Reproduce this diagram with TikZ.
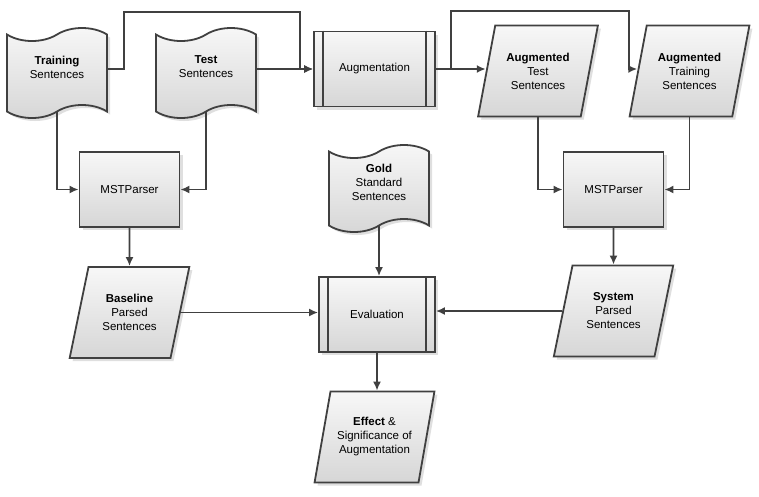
\documentclass[tikz,border=0pt]{standalone}
\usepackage{fontspec}
\setmainfont{Liberation Sans}
\usepackage{tikz}
\usetikzlibrary{arrows.meta}
\usetikzlibrary{shapes.symbols}
\usetikzlibrary{shapes.geometric}
\usetikzlibrary{shadows}
\definecolor{edgegray}{HTML}{404040}
\tikzset{
  box/.style={draw=edgegray, line width=1.8pt, top color=gray!6, bottom color=gray!32,
    drop shadow={shadow xshift=3pt, shadow yshift=-3pt, fill=gray!50, opacity=.5},
    align=center, font=\fontsize{11.5}{14}\selectfont},
  proc/.style={box, rectangle, minimum width=100pt, minimum height=75pt},
  tapedoc/.style={box, tape, minimum width=100pt, minimum height=90pt, tape bend height=13pt, text depth=12pt},
  data/.style={box, trapezium, trapezium left angle=72, trapezium right angle=108,
    trapezium stretches=true, minimum width=120pt, minimum height=91pt},
  flow/.style={draw=edgegray, line width=1.8pt, -{Latex[length=9pt,width=8pt]}}
}
\begin{document}
\begin{tikzpicture}[x=1pt,y=-1pt]
  \useasboundingbox (0,0) rectangle (759,496);
  % top row
  \node[tapedoc] (train) at (57,73) {\textbf{Training}\\Sentences};%
  \node[tapedoc] (test) at (206,73) {\textbf{Test}\\Sentences};%
  \node[proc, minimum width=121pt] (aug) at (374.5,69) {Augmentation};%
  \node[data] (augtest) at (538,71) {\textbf{Augmented}\\Test\\Sentences};%
  \node[data] (augtrain) at (689.5,71) {\textbf{Augmented}\\Training\\Sentences};%
  % parsers
  \node[proc] (mstl) at (129.5,189.5) {MSTParser};%
  \node[proc] (mstr) at (613.5,189.5) {MSTParser};%
  \node[tapedoc, minimum height=87pt] (gold) at (379,188.5) {\textbf{Gold}\\Standard\\Sentences};%
  % evaluation
  \node[data] (base) at (129.5,312.5) {\textbf{Baseline}\\Parsed\\Sentences};%
  \node[proc, minimum width=116pt] (eval) at (377,314.5) {Evaluation};%
  \node[data] (sys) at (613.5,311) {\textbf{System}\\Parsed\\Sentences};%
  \node[data] (effect) at (374.5,437) {\textbf{Effect} \&\\Significance of\\Augmentation};%
  % predefined process bars
  \foreach \n in {aug,eval} {%
    \draw[draw=edgegray, line width=1.8pt] ([xshift=10pt]\n.north west) -- ([xshift=10pt]\n.south west);%
    \draw[draw=edgegray, line width=1.8pt] ([xshift=-10pt]\n.north east) -- ([xshift=-10pt]\n.south east);%
  }
  \draw[flow] (train.east |- aug.west) -- ++(16,0) |- ++(176,-57) |- (aug.west);%
  \draw[flow] (test.east |- aug.west) -- (aug.west);%
  \draw[flow] (aug.east) -- (augtest.west |- aug.east);%
  \draw[flow] (aug.east) -- ++(15,0) |- ++(178,-58) |- (augtrain.west |- aug.east);%
  \draw[flow] (train.south) |- (mstl.west);%
  \draw[flow] (test.south) |- (mstl.east);%
  \draw[flow] (augtest.south) |- (mstr.west);%
  \draw[flow] (augtrain.south) |- (mstr.east);%
  \draw[flow] (mstl.south) -- (base.north);%
  \draw[flow] (mstr.south) -- (sys.north);%
  \draw[flow] (base.east) -- (base.east -| eval.west);%
  \draw[flow] (sys.west) -- (sys.west -| eval.east);%
  \draw[flow] (gold.south) -- (gold.south |- eval.north);%
  \draw[flow] (eval.south) -- (eval.south |- effect.north);%
\end{tikzpicture}
\end{document}
